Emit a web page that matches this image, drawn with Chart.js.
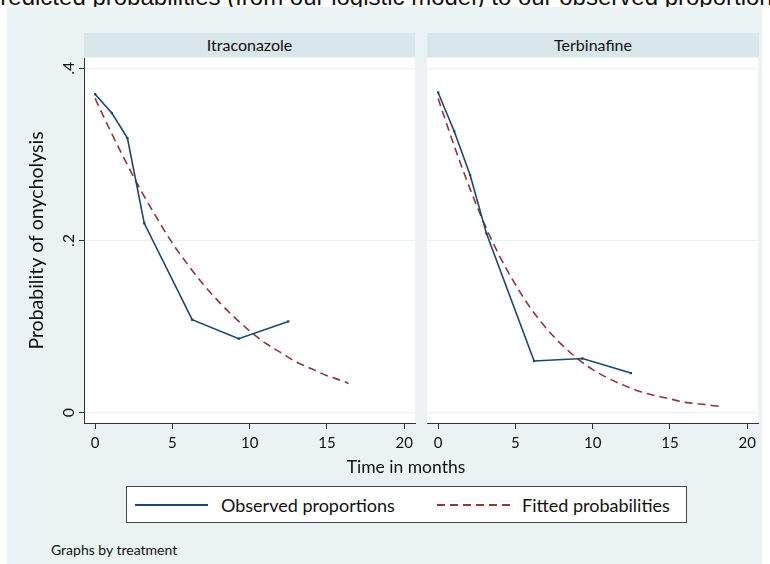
<!DOCTYPE html>
<html>
<head>
<meta charset="utf-8">
<script src="https://cdn.jsdelivr.net/npm/chart.js@4"></script>
<style>
  body { margin: 0; width: 770px; height: 564px; background: #fff; overflow: hidden; position: relative; font-family: Lato, "Open Sans", sans-serif; color: #111; }
  #top { position: absolute; left: -13px; top: -17px; font: 24px "Liberation Sans", Arial, sans-serif; white-space: nowrap; color: #111; }
  #bg { position: absolute; left: 7px; top: 7px; width: 755px; height: 557px; background: #EAF2F3; }
  .strip { position: absolute; top: 33px; height: 24px; line-height: 24px; background: #D9E6EA; text-align: center; font-size: 16px; }
  canvas { position: absolute; top: 0; }
  #xt { position: absolute; left: 306px; width: 200px; top: 456px; text-align: center; font-size: 17.5px; }
  #leg { position: absolute; left: 126px; top: 486px; width: 559px; height: 35px; border: 1px solid #444; background: #fff; }
  #leg .ln { position: absolute; top: 17px; height: 2px; }
  #leg .tx { position: absolute; top: 7px; font-size: 18px; }
  #note { position: absolute; left: 51px; top: 541px; font-size: 14px; }
</style>
</head>
<body>
<div id="top">predicted probabilities (from our logistic model) to our observed proportions</div>
<div id="bg"></div>
<div class="strip" style="left:84px;width:331px">Itraconazole</div>
<div class="strip" style="left:427px;width:332px">Terbinafine</div>
<canvas id="left" width="430" height="470" style="left:0"></canvas>
<canvas id="right" width="350" height="470" style="left:420px"></canvas>
<div id="xt">Time in months</div>
<div id="leg">
  <div class="ln" style="left:8px;width:73px;background:#1A476F"></div>
  <div class="tx" style="left:94px">Observed proportions</div>
  <div class="ln" style="left:310px;width:74px;background:repeating-linear-gradient(to right,#90353B 0 8px,transparent 8px 13px)"></div>
  <div class="tx" style="left:395px">Fitted probabilities</div>
</div>
<div id="note">Graphs by treatment</div>

<script>
// ticks
let xTicks = [0, 5, 10, 15, 20];
let yTicks = [0, 0.2, 0.4];
let yTickLabels = ['0', '.2', '.4'];

// Itraconazole
let obsTimeItr = [0, 1.08, 2.09, 3.18, 6.28, 9.29, 12.5];
let obsItr = [0.370, 0.348, 0.319, 0.220, 0.108, 0.086, 0.106];
let fitTimeItr = [0, 1, 2, 3, 4, 5, 6, 7, 8, 9, 10, 11, 12, 13, 14, 15, 16, 16.4];
let fitItr = [0.365, 0.327, 0.291, 0.257, 0.226, 0.197, 0.172, 0.149, 0.129, 0.111, 0.095, 0.081, 0.070, 0.059, 0.051, 0.043, 0.037, 0.034];

// Terbinafine
let obsTimeTer = [0, 1.04, 2.07, 3.13, 6.21, 9.34, 12.47];
let obsTer = [0.372, 0.327, 0.276, 0.208, 0.060, 0.063, 0.046];
let fitTimeTer = [0, 1, 2, 3, 4, 5, 6, 7, 8, 9, 10, 11, 12, 13, 14, 15, 16, 17, 18, 18.3];
let fitTer = [0.365, 0.312, 0.263, 0.219, 0.181, 0.149, 0.121, 0.098, 0.079, 0.063, 0.050, 0.040, 0.032, 0.025, 0.020, 0.016, 0.012, 0.010, 0.0078, 0.0073];

let pares = (xs, ys) => xs.map((x, i) => ({x: x, y: ys[i]}));

let series = (tObs, obs, tFit, fit) => [
  {
    label: 'Observed proportions',
    data: pares(tObs, obs),
    borderColor: '#1A476F',
    backgroundColor: '#1A476F',
    borderWidth: 1.6,
    pointStyle: 'rect',
    pointRadius: 1.6,
    pointBorderWidth: 0
  },
  {
    label: 'Fitted probabilities',
    data: pares(tFit, fit),
    borderColor: '#90353B',
    borderWidth: 1.6,
    borderDash: [8, 5],
    pointRadius: 0,
    cubicInterpolationMode: 'monotone'
  }
];

let fondoBlanco = {
  id: 'fondoBlanco',
  beforeDraw: (chart) => {
    let a = chart.chartArea;
    chart.ctx.save();
    chart.ctx.fillStyle = '#fff';
    chart.ctx.fillRect(a.left, a.top, a.right - a.left, a.bottom - a.top);
    chart.ctx.restore();
  }
};

let xScale = {
  type: 'linear',
  min: -0.72,
  max: 20.7,
  afterBuildTicks: (s) => { s.ticks = xTicks.map(v => ({value: v})); },
  afterFit: (s) => { s.height = 47; },
  grid: { drawOnChartArea: false, tickLength: 6, tickColor: '#333' },
  border: { color: '#333', width: 1 },
  ticks: { font: { family: 'Lato', size: 15 }, color: '#111', padding: 5 }
};

let opciones = (izq) => ({
  responsive: false,
  animation: false,
  layout: { padding: izq ? { left: 24, top: 58, right: 15, bottom: 0 } : { left: 7, top: 58, right: 12, bottom: 0 } },
  plugins: { legend: { display: false }, tooltip: { enabled: false } },
  scales: {
    x: xScale,
    y: {
      min: -0.012,
      max: 0.412,
      afterBuildTicks: (s) => { s.ticks = yTicks.map(v => ({value: v})); },
      afterFit: (s) => { s.width = izq ? 60 : 0; },
      grid: { color: '#EAF2F3', tickColor: '#333', tickLength: 5, drawTicks: izq },
      border: { display: izq, color: '#333', width: 1 },
      ticks: {
        display: izq,
        minRotation: 90,
        maxRotation: 90,
        crossAlign: 'center',
        padding: 4,
        font: { family: 'Lato', size: 16 },
        color: '#111',
        callback: (v) => yTickLabels[yTicks.indexOf(v)]
      },
      title: {
        display: izq,
        text: 'Probability of onycholysis',
        font: { family: 'Lato', size: 19.5 },
        color: '#111',
        padding: { top: 1, bottom: 0 }
      }
    }
  }
});

new Chart(document.getElementById('left'), {
  type: 'line',
  data: { datasets: series(obsTimeItr, obsItr, fitTimeItr, fitItr) },
  options: opciones(true),
  plugins: [fondoBlanco]
});

new Chart(document.getElementById('right'), {
  type: 'line',
  data: { datasets: series(obsTimeTer, obsTer, fitTimeTer, fitTer) },
  options: opciones(false),
  plugins: [fondoBlanco]
});
</script>
</body>
</html>
